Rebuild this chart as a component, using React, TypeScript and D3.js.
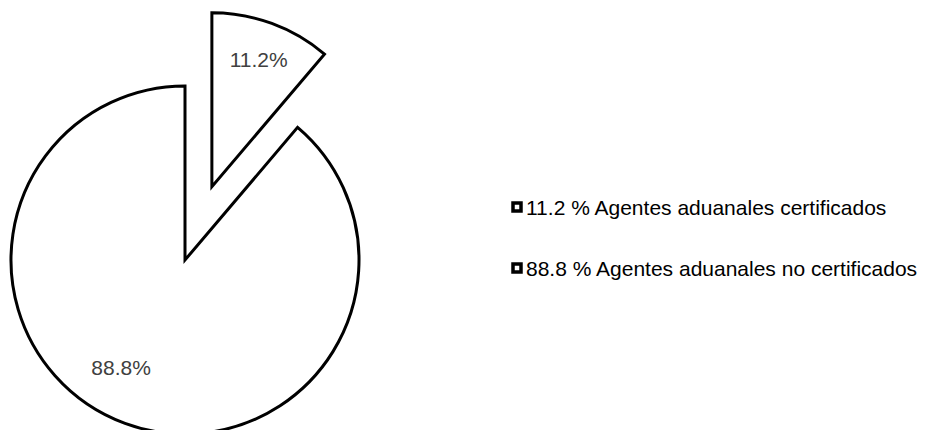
import React, { useEffect, useRef } from "react";
import * as d3 from "d3";

const categories = ["Agentes aduanales certificados", "Agentes aduanales no certificados"];
const values = [11.2, 88.8];

const WIDTH = 926;
const HEIGHT = 430;
const FONT = "'Liberation Sans', Arial, sans-serif";

export default function App() {
  const ref = useRef<SVGSVGElement>(null);

  useEffect(() => {
    if (!ref.current) return;
    const svg = d3.select(ref.current);
    svg.selectAll("*").remove();

    const cx = 185;
    const cy = 260;
    const radius = 174;
    const explode = [78, 0];
    // label position: fraction of radius + angle shift (deg) per slice
    const labelFrac = [0.78, 0.72];
    const labelShift = [0, 10.5];

    const pie = d3.pie<number>().sort(null).value((d) => d);
    const arcs = pie(values);
    const arc = d3.arc<d3.PieArcDatum<number>>().innerRadius(0).outerRadius(radius);

    const g = svg.append("g").attr("transform", `translate(${cx},${cy})`);

    const slice = g.selectAll("g.slice").data(arcs).enter().append("g")
      .attr("class", "slice")
      .attr("transform", (d, i) => {
        const a = (d.startAngle + d.endAngle) / 2;
        return `translate(${explode[i] * Math.sin(a)},${-explode[i] * Math.cos(a)})`;
      });

    slice.append("path")
      .attr("d", (d) => arc(d) as string)
      .attr("fill", "#ffffff")
      .attr("stroke", "#000000")
      .attr("stroke-width", 3)
      .attr("stroke-linejoin", "miter");

    slice.append("text")
      .attr("x", (d, i) => {
        const a = (d.startAngle + d.endAngle) / 2 + (labelShift[i] * Math.PI) / 180;
        return radius * labelFrac[i] * Math.sin(a);
      })
      .attr("y", (d, i) => {
        const a = (d.startAngle + d.endAngle) / 2 + (labelShift[i] * Math.PI) / 180;
        return -radius * labelFrac[i] * Math.cos(a);
      })
      .attr("text-anchor", "middle")
      .attr("dominant-baseline", "central")
      .attr("font-family", FONT)
      .attr("font-size", 21)
      .attr("fill", "#404040")
      .text((d) => `${d.data.toFixed(1)}%`);

    // legend
    const legend = svg.append("g").attr("transform", "translate(511,207)");
    const rowY = d3.scalePoint<number>().domain(values.map((_, i) => i)).range([0, 61]);
    const item = legend.selectAll("g.item").data(values).enter().append("g")
      .attr("class", "item")
      .attr("transform", (_, i) => `translate(0,${rowY(i)})`);

    item.append("rect")
      .attr("x", 2).attr("y", -4)
      .attr("width", 8).attr("height", 8)
      .attr("fill", "#ffffff")
      .attr("stroke", "#000000")
      .attr("stroke-width", 3.5);

    item.append("text")
      .attr("x", 15)
      .attr("y", 0)
      .attr("dominant-baseline", "central")
      .attr("font-family", FONT)
      .attr("font-size", 21)
      .attr("fill", "#000000")
      .text((d, i) => `${d.toFixed(1)} % ${categories[i]}`);
  }, []);

  return (
    <svg
      ref={ref}
      width={WIDTH}
      height={HEIGHT}
      style={{ position: "absolute", left: 0, top: 0, background: "#ffffff", overflow: "hidden" }}
    />
  );
}
